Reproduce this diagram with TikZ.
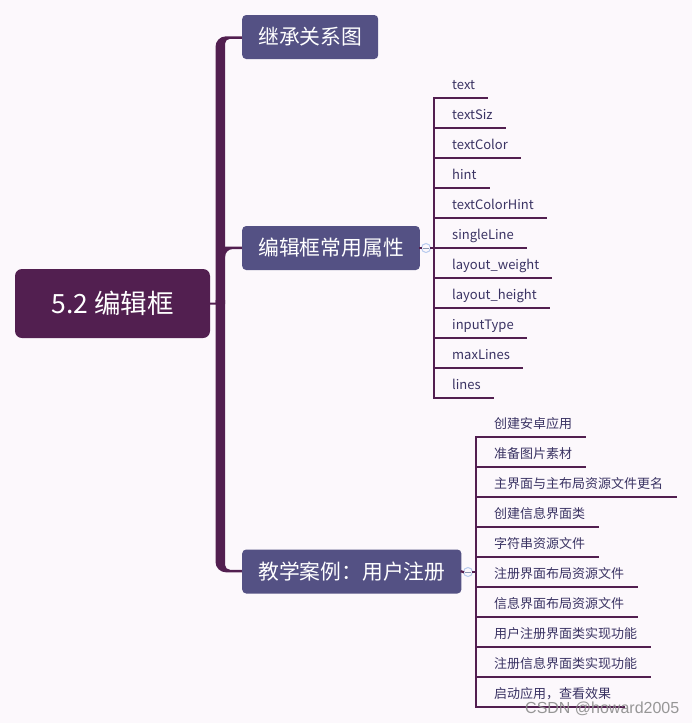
\documentclass[tikz,border=0pt]{standalone}
\usepackage{fontspec}
\setmainfont{Noto Sans CJK SC}
\newfontfamily\markfont{Liberation Sans}
\usepackage{tikz}
\usetikzlibrary{positioning,backgrounds,calc}
\definecolor{MapPaper}{HTML}{FCF8FC}
\definecolor{MapPlum}{HTML}{521F50}
\definecolor{MapIndigo}{HTML}{545184}
\definecolor{MapInk}{HTML}{3A3363}
\definecolor{MapFold}{HTML}{B7CAEE}
\definecolor{MapMark}{HTML}{8C8C8C}

\begin{document}
\begin{tikzpicture}[
  x=1pt, y=1pt,
  rootbox/.style={fill=MapPlum, rounded corners=7pt, text=white,
                  font=\fontsize{26.5}{30}\selectfont,
                  minimum width=195pt, minimum height=69pt, inner sep=0pt},
  branch/.style={fill=MapIndigo, rounded corners=4pt, text=white,
                 font=\fontsize{20.8}{24}\selectfont,
                 minimum height=44pt, inner xsep=16pt, inner ysep=0pt, anchor=west},
  leaf/.style={font=\fontsize{13}{15}\selectfont, text=MapInk,
               inner xsep=12pt, inner ysep=0pt, text depth=8.5pt, anchor=south west},
  twig/.style={draw=MapPlum, line width=2.2pt, line cap=rect},
  fold/.style={circle, draw=MapFold, fill=MapPaper, line width=1pt,
               minimum size=9pt, inner sep=0pt,
               path picture={\draw[MapFold!75!black, line width=1pt]
                 ([xshift=-2.6pt]path picture bounding box.center) --
                 ([xshift=2.6pt]path picture bounding box.center);}},
  trunk/.style={fill=MapPlum},
  watermark/.style={font=\markfont\fontsize{16}{18}\selectfont, text=MapMark,
                    text opacity=0.9, inner sep=0pt, anchor=base west},
]

\useasboundingbox (0,0) rectangle (692,-723);

% --- Root and main branches ---
\node[rootbox] (root) at (112.5,-303.5) {5.2 编辑框};

\node[branch] (inherit) at (242,-37) {继承关系图};
\node[branch] (attrs) at (242,-248) {编辑框常用属性};
\node[branch] (case) at (242,-571.5) {教学案例：用户注册};

\coordinate (hub) at (220.5,-303.7);
\draw[MapPlum, line width=2pt] (root.east) -- (hub);

% --- Attribute leaves ---
\node[fold] (attrsfold) at (426,-248) {};
\coordinate (attrsrail) at (434,-248);

\foreach \t [count=\i] in {text, textSiz, textColor, hint, textColorHint,
    singleLine, layout\_weight, layout\_height, inputType, maxLines, lines} {
  \node[leaf] (attr\i) at (440,{-68-30*\i}) {\t};
}

\draw[twig] (attrs.east) -- (attrsfold.west);
\draw[twig] (attrsfold.east) -- (attrsrail);
\draw[twig] (attrsrail |- attr1.south) -- (attrsrail |- attr11.south);
\foreach \i in {1,...,11}
  \draw[twig] (attrsrail |- attr\i.south) -- (attr\i.south east);

% --- Case leaves ---
\node[fold] (casefold) at (468,-572) {};
\coordinate (caserail) at (476,-572);

\foreach \t [count=\i] in {创建安卓应用, 准备图片素材, 主界面与主布局资源文件更名,
    创建信息界面类, 字符串资源文件, 注册界面布局资源文件, 信息界面布局资源文件,
    用户注册界面类实现功能, 注册信息界面类实现功能, 启动应用，查看效果} {
  \node[leaf] (step\i) at (482,{-407-30*\i}) {\t};
}

\draw[twig] (case.east) -- (casefold.west);
\draw[twig] (casefold.east) -- (caserail);
\draw[twig] (caserail |- step1.south) -- (caserail |- step10.south);
\foreach \i in {1,...,10}
  \draw[twig] (caserail |- step\i.south) -- (step\i.south east);

% --- Trunk (tapered arms) ---
\begin{pgfonlayer}{background}
  \fill[MapPaper] (0,0) rectangle (692,-723);
  % upper arm
  \fill[trunk] (215.5,-304) -- (215.5,-46.8)
    arc[start angle=180, end angle=90, radius=10.5]
    -- (250,-36.3) -- (250,-38.8) -- (230,-38.8)
    arc[start angle=90, end angle=180, radius=5]
    -- (225,-304) -- cycle;
  % lower arm
  \fill[trunk] (215.5,-300) -- (215.5,-561.8)
    arc[start angle=180, end angle=270, radius=10.5]
    -- (250,-572.3) -- (250,-569.8) -- (230,-569.8)
    arc[start angle=270, end angle=180, radius=5]
    -- (225,-300) -- cycle;
  % middle arm
  \fill[trunk] (224,-246.5) -- (250,-246.5) -- (250,-249) -- (233,-249)
    arc[start angle=90, end angle=180, radius=8]
    -- (224,-257) -- cycle;
\end{pgfonlayer}

% --- Watermark ---
\node[watermark] (mark) at (525,-713.3) {CSDN @howard2005};

\end{tikzpicture}
\end{document}
